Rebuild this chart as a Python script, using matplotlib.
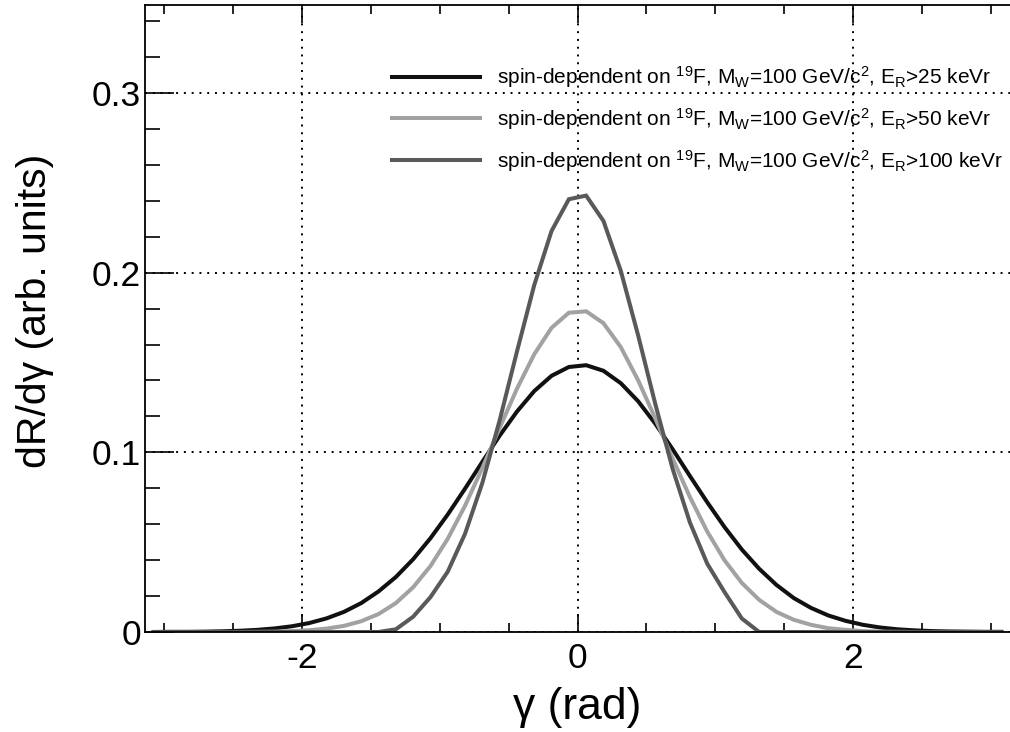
import numpy as np
import matplotlib
matplotlib.use("Agg")
import matplotlib.pyplot as plt
from matplotlib.ticker import MultipleLocator, FixedLocator, FuncFormatter

plt.rcParams['font.family'] = ['Liberation Sans', 'DejaVu Sans']
plt.rcParams['mathtext.fontset'] = 'custom'
plt.rcParams['mathtext.rm'] = 'Liberation Sans'
plt.rcParams['mathtext.it'] = 'Liberation Sans:italic'
plt.rcParams['mathtext.bf'] = 'Liberation Sans:bold'

# bin centres of gamma (rad)
gamma = [-3.0788, -2.9531, -2.8274, -2.7018, -2.5761, -2.4504, -2.3248, -2.1991,
         -2.0735, -1.9478, -1.8221, -1.6965, -1.5708, -1.4451, -1.3195, -1.1938,
         -1.0681, -0.9425, -0.8168, -0.6912, -0.5655, -0.4398, -0.3142, -0.1885,
         -0.0628, 0.0628, 0.1885, 0.3142, 0.4398, 0.5655, 0.6912, 0.8168,
         0.9425, 1.0681, 1.1938, 1.3195, 1.4451, 1.5708, 1.6965, 1.8221,
         1.9478, 2.0735, 2.1991, 2.3248, 2.4504, 2.5761, 2.7018, 2.8274,
         2.9531, 3.0788]

rate_25 = [0.0000, 0.0001, 0.0001, 0.0002, 0.0004, 0.0007, 0.0012, 0.0020,
           0.0032, 0.0050, 0.0076, 0.0112, 0.0161, 0.0226, 0.0306, 0.0405,
           0.0522, 0.0654, 0.0798, 0.0947, 0.1093, 0.1227, 0.1341, 0.1426,
           0.1475, 0.1485, 0.1454, 0.1385, 0.1285, 0.1159, 0.1017, 0.0868,
           0.0722, 0.0584, 0.0459, 0.0352, 0.0262, 0.0189, 0.0134, 0.0092,
           0.0062, 0.0040, 0.0025, 0.0015, 0.0009, 0.0005, 0.0003, 0.0002,
           0.0001, 0.0001]

rate_50 = [0.0, 0.0, 0.0, 0.0, 0.0, 0.0, 0.0001, 0.0002,
           0.0005, 0.0010, 0.0019, 0.0034, 0.0060, 0.0100, 0.0161, 0.0249,
           0.0367, 0.0519, 0.0703, 0.0913, 0.1136, 0.1354, 0.1546, 0.1693,
           0.1777, 0.1785, 0.1719, 0.1586, 0.1402, 0.1188, 0.0965, 0.0751,
           0.0559, 0.0399, 0.0273, 0.0179, 0.0112, 0.0068, 0.0040, 0.0021,
           0.0012, 0.0005, 0.0002, 0.0001, 0.0, 0.0, 0.0, 0.0,
           0.0, 0.0]

rate_100 = [0.0, 0.0, 0.0, 0.0, 0.0, 0.0, 0.0, 0.0,
            0.0, 0.0, 0.0, 0.0, 0.0, 0.0, 0.0015, 0.0085,
            0.0194, 0.0336, 0.0547, 0.0830, 0.1178, 0.1561, 0.1931, 0.2232,
            0.2409, 0.2429, 0.2288, 0.2011, 0.1653, 0.1268, 0.0908, 0.0609,
            0.0380, 0.0222, 0.0075, 0.0, 0.0, 0.0, 0.0, 0.0,
            0.0, 0.0, 0.0, 0.0, 0.0, 0.0, 0.0, 0.0,
            0.0, 0.0]

labels = [r"spin-dependent on $^{19}$F, M$_{\mathrm{W}}$=100 GeV/c$^{2}$, E$_{\mathrm{R}}$>25 keVr",
          r"spin-dependent on $^{19}$F, M$_{\mathrm{W}}$=100 GeV/c$^{2}$, E$_{\mathrm{R}}$>50 keVr",
          r"spin-dependent on $^{19}$F, M$_{\mathrm{W}}$=100 GeV/c$^{2}$, E$_{\mathrm{R}}$>100 keVr"]
colors = ['#111111', '#a2a2a2', '#595959']
series = [rate_25, rate_50, rate_100]

# axes extends a few pixels beyond the right edge of the figure (as in reference)
scale = 865 / (2 * np.pi)          # px per rad
right_px = 1016
fig = plt.figure(figsize=(10.10, 7.32), dpi=100)
ax = fig.add_axes([145/1010, 100/732, (right_px - 145)/1010, 627/732])

for y, c, lab in zip(series, colors, labels):
    ax.plot(gamma, y, color=c, lw=2.9, label=lab, solid_joinstyle='miter')

ax.set_xlim(-np.pi, -np.pi + (right_px - 145) / scale)
ax.set_ylim(0, 0.349)

ax.xaxis.set_major_locator(FixedLocator([-2, 0, 2]))
ax.xaxis.set_minor_locator(FixedLocator([-3, -2.5, -1.5, -1, -0.5, 0.5, 1, 1.5, 2.5, 3]))
ax.yaxis.set_major_locator(MultipleLocator(0.1))
ax.yaxis.set_minor_locator(MultipleLocator(0.02))
fmt = FuncFormatter(lambda v, p: "0" if abs(v) < 1e-9 else f"{v:g}")
ax.yaxis.set_major_formatter(fmt)
ax.xaxis.set_major_formatter(fmt)

ax.tick_params(axis='x', which='major', direction='in', length=13, width=1.2,
               top=True, bottom=True, labelsize=25.5, pad=7)
ax.tick_params(axis='x', which='minor', direction='in', length=6.5, width=1.2,
               top=True, bottom=True)
ax.tick_params(axis='y', which='major', direction='in', length=21, width=1.2,
               left=True, right=False, labelsize=25.5, pad=3)
ax.tick_params(axis='y', which='minor', direction='in', length=11, width=1.2,
               left=True, right=False)
for s in ax.spines.values():
    s.set_linewidth(1.3)

ax.grid(True, which='major', color='black', linestyle=(0, (1, 3)), linewidth=1.4)

ax.set_xlabel("γ (rad)", fontsize=32)
ax.set_ylabel("dR/dγ (arb. units)", fontsize=29.5)
ax.xaxis.set_label_coords(0.5 * 865 / (right_px - 145), -0.088)
ax.yaxis.set_label_coords(-0.105 * 865 / (right_px - 145), 0.512)

leg = ax.legend(loc='upper left', bbox_to_anchor=((392 - 145) / (right_px - 145), 0.905),
                frameon=False, fontsize=15, handlelength=4.2, handletextpad=0.85,
                labelspacing=0.75, borderpad=0, borderaxespad=0)

fig.savefig("out.png", dpi=100, facecolor='white')
